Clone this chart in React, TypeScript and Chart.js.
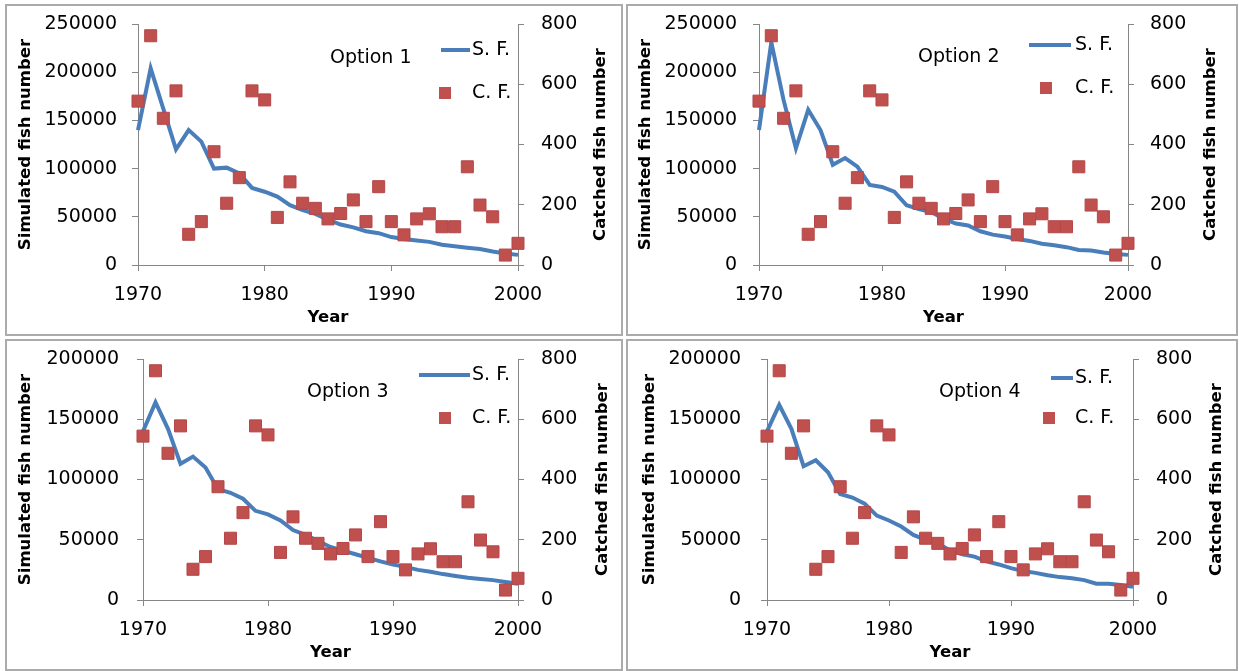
import React, { useEffect, useRef } from 'react';
import { Chart, registerables } from 'chart.js';

Chart.register(...registerables);

// ---------- data ----------
const years = [1970, 1971, 1972, 1973, 1974, 1975, 1976, 1977, 1978, 1979, 1980, 1981, 1982, 1983, 1984, 1985, 1986, 1987, 1988, 1989, 1990, 1991, 1992, 1993, 1994, 1995, 1996, 1997, 1998, 1999, 2000];

const catchedFish = [544, 761, 487, 578, 102, 144, 376, 205, 290, 578, 548, 158, 276, 205, 188, 153, 171, 216, 144, 260, 144, 100, 153, 170, 127, 127, 326, 199, 160, 33, 72];

const simulatedOption1 = [140000, 204000, 162000, 120000, 140000, 128000, 100000, 101000, 95000, 80000, 76000, 71000, 62000, 57000, 53000, 47000, 42000, 39000, 35000, 33000, 29000, 27000, 25500, 24000, 21000, 19500, 18000, 16500, 14000, 12000, 10500];
const simulatedOption2 = [140000, 231000, 171000, 121000, 161000, 140000, 104000, 111000, 102000, 83000, 81000, 76000, 62000, 58000, 55000, 48000, 43000, 41000, 35000, 31500, 29500, 27000, 25000, 22000, 20500, 18500, 15500, 15000, 13000, 11500, 10500];
const simulatedOption3 = [140000, 164000, 142000, 113000, 119000, 110000, 92000, 89000, 84000, 74000, 71000, 66000, 58000, 54000, 49000, 44000, 41000, 38000, 35000, 32000, 29500, 27500, 25000, 23500, 21500, 20000, 18500, 17500, 16500, 15000, 13500];
const simulatedOption4 = [140000, 162000, 142000, 111000, 116000, 106000, 88000, 85000, 80000, 70000, 66000, 61000, 54000, 50000, 47000, 41000, 38000, 36000, 32000, 29500, 26500, 24000, 22500, 20500, 19000, 18000, 16500, 13500, 13500, 12500, 11000];

const simulatedSeries = [simulatedOption1, simulatedOption2, simulatedOption3, simulatedOption4];
const optionNames = ['Option 1', 'Option 2', 'Option 3', 'Option 4'];
const leftAxisMax = [250000, 250000, 200000, 200000];
const leftAxisStep = 50000;
const rightAxisMax = 800;
const rightAxisStep = 200;
const xMin = 1970;
const xMax = 2000;
const xStep = 10;
const seriesNames = ['S. F.', 'C. F.'];
const xTitle = 'Year';
const leftTitle = 'Simulated fish number';
const rightTitle = 'Catched fish number';

// ---------- layout / style ----------
const FONT = '"DejaVu Sans", sans-serif';
const BLUE = '#4A7EBB';
const RED = '#C0504D';
const AXIS = '#868686';
const TEXT = '#000000';

const panels = [
  { box: { l: 6, t: 5, r: 622, b: 335 }, area: { l: 138, r: 518, t: 24, b: 265 }, opt: { x: 330, y: 58 }, leg: { x1: 441, x2: 470, y1: 50, sq: 445, tx: 472, y2: 93 }, rTitleX: 601, lTitlePad: 10, lGap: 21, rGap: 23, yearOff: 17 },
  { box: { l: 627, t: 5, r: 1237, b: 335 }, area: { l: 759, r: 1128, t: 24, b: 265 }, opt: { x: 918, y: 57 }, leg: { x1: 1029, x2: 1071, y1: 45, sq: 1046, tx: 1075, y2: 88 }, rTitleX: 1211, lTitlePad: 9, lGap: 22, rGap: 22, yearOff: 17 },
  { box: { l: 6, t: 340, r: 622, b: 670 }, area: { l: 143, r: 518, t: 359, b: 600 }, opt: { x: 307, y: 392 }, leg: { x1: 419, x2: 470, y1: 375, sq: 445, tx: 472, y2: 418 }, rTitleX: 603, lTitlePad: 10, lGap: 24, rGap: 23, yearOff: 17 },
  { box: { l: 627, t: 340, r: 1237, b: 670 }, area: { l: 767, r: 1133, t: 359, b: 600 }, opt: { x: 939, y: 392 }, leg: { x1: 1051, x2: 1073, y1: 378, sq: 1049, tx: 1075, y2: 418 }, rTitleX: 1217, lTitlePad: 13, lGap: 26, rGap: 23, yearOff: 17 },
];

function noPad(s: any) {
  s.paddingTop = 0;
  s.paddingBottom = 0;
  s.paddingLeft = 0;
  s.paddingRight = 0;
}

function makeOverlay(p: any, name: string) {
  return {
    id: 'overlay',
    afterDraw(chart: any) {
      const ctx = chart.ctx;
      const ox = p.box.l;
      const oy = p.box.t;
      ctx.save();
      ctx.fillStyle = TEXT;
      ctx.textBaseline = 'middle';
      ctx.textAlign = 'left';
      ctx.font = `19px ${FONT}`;
      // option label
      ctx.fillText(name, p.opt.x - ox, p.opt.y - oy);
      // legend: line
      ctx.strokeStyle = BLUE;
      ctx.lineWidth = 4;
      ctx.lineCap = 'butt';
      ctx.beginPath();
      ctx.moveTo(p.leg.x1 - ox, p.leg.y1 - oy);
      ctx.lineTo(p.leg.x2 - ox, p.leg.y1 - oy);
      ctx.stroke();
      ctx.fillText(seriesNames[0], p.leg.tx - ox, p.leg.y1 - oy);
      // legend: square
      ctx.fillStyle = RED;
      ctx.fillRect(p.leg.sq - ox - 6, p.leg.y2 - oy - 6, 12, 12);
      ctx.fillStyle = TEXT;
      ctx.fillText(seriesNames[1], p.leg.tx - ox, p.leg.y2 - oy);
      // right axis title (reads bottom to top)
      ctx.font = `bold 16.5px ${FONT}`;
      ctx.textAlign = 'center';
      ctx.translate(p.rTitleX - ox, (p.area.t + p.area.b) / 2 - oy);
      ctx.rotate(-Math.PI / 2);
      ctx.fillText(rightTitle, 0, 0);
      ctx.restore();
    },
  };
}

function Panel({ idx }: { idx: number }) {
  const ref = useRef<HTMLCanvasElement | null>(null);
  const p = panels[idx];
  const W = p.box.r - p.box.l;
  const H = p.box.b - p.box.t;

  useEffect(() => {
    if (!ref.current) return;
    const sim = simulatedSeries[idx];
    const tickFont = { family: FONT, size: 19 };
    const titleFont = { family: FONT, size: 16.5, weight: 'bold' as const };
    const gridOpts = { drawOnChartArea: false, drawTicks: true, tickLength: 6, color: AXIS, lineWidth: 1 };
    const borderOpts = { display: true, color: AXIS, width: 1 };

    const chart = new Chart(ref.current, {
      type: 'scatter',
      data: {
        datasets: [
          {
            type: 'scatter',
            label: seriesNames[1],
            data: years.map((y, i) => ({ x: y, y: catchedFish[i] })),
            yAxisID: 'y2',
            pointStyle: 'rect',
            pointRadius: 8.5,
            pointHoverRadius: 8.5,
            backgroundColor: RED,
            borderColor: '#B4474A',
            borderWidth: 1,
            clip: false as any,
            order: 0,
          },
          {
            type: 'line',
            label: seriesNames[0],
            data: years.map((y, i) => ({ x: y, y: sim[i] })),
            yAxisID: 'y',
            borderColor: BLUE,
            backgroundColor: BLUE,
            borderWidth: 4,
            pointRadius: 0,
            pointHoverRadius: 0,
            tension: 0,
            fill: false,
            clip: false as any,
            order: 1,
          },
        ] as any,
      },
      options: {
        animation: false,
        responsive: false,
        events: [],
        layout: { padding: { top: p.area.t - p.box.t, left: 0, right: 0, bottom: 0 } },
        plugins: { legend: { display: false }, tooltip: { enabled: false }, title: { display: false } },
        scales: {
          x: {
            type: 'linear',
            min: xMin,
            max: xMax,
            grid: gridOpts,
            border: borderOpts,
            ticks: { stepSize: xStep, font: tickFont, color: TEXT, padding: 13, maxRotation: 0, callback: (v: any) => String(v) },
            title: { display: true, text: xTitle, font: titleFont, color: TEXT, padding: { top: 0, bottom: p.yearOff - 10 } },
            afterFit: (s: any) => { s.height = p.box.b - p.area.b; noPad(s); },
          },
          y: {
            type: 'linear',
            position: 'left',
            min: 0,
            max: leftAxisMax[idx],
            grid: gridOpts,
            border: borderOpts,
            ticks: { stepSize: leftAxisStep, font: tickFont, color: TEXT, padding: p.lGap - 6, callback: (v: any) => String(v) },
            title: { display: true, text: leftTitle, font: titleFont, color: TEXT, padding: { top: p.lTitlePad, bottom: 0 } },
            afterFit: (s: any) => { s.width = p.area.l - p.box.l; noPad(s); },
          },
          y2: {
            type: 'linear',
            position: 'right',
            min: 0,
            max: rightAxisMax,
            grid: gridOpts,
            border: borderOpts,
            ticks: { stepSize: rightAxisStep, font: tickFont, color: TEXT, padding: p.rGap - 6, callback: (v: any) => String(v) },
            afterFit: (s: any) => { s.width = p.box.r - p.area.r; noPad(s); },
          },
        },
      } as any,
      plugins: [makeOverlay(p, optionNames[idx])],
    });
    return () => chart.destroy();
  }, [idx]);

  return (
    <>
      <canvas
        ref={ref}
        width={W}
        height={H}
        style={{ position: 'absolute', left: p.box.l, top: p.box.t, width: W, height: H, display: 'block' }}
      />
      <div
        style={{
          position: 'absolute',
          left: p.box.l - 1,
          top: p.box.t - 1,
          width: W + 2,
          height: H + 2,
          border: '2px solid #ababab',
          boxSizing: 'border-box',
          pointerEvents: 'none',
        }}
      />
    </>
  );
}

export default function App() {
  return (
    <div style={{ position: 'fixed', left: 0, top: 0, width: 1239, height: 671, background: '#ffffff', overflow: 'hidden' }}>
      {[0, 1, 2, 3].map((i) => (
        <Panel key={i} idx={i} />
      ))}
    </div>
  );
}
